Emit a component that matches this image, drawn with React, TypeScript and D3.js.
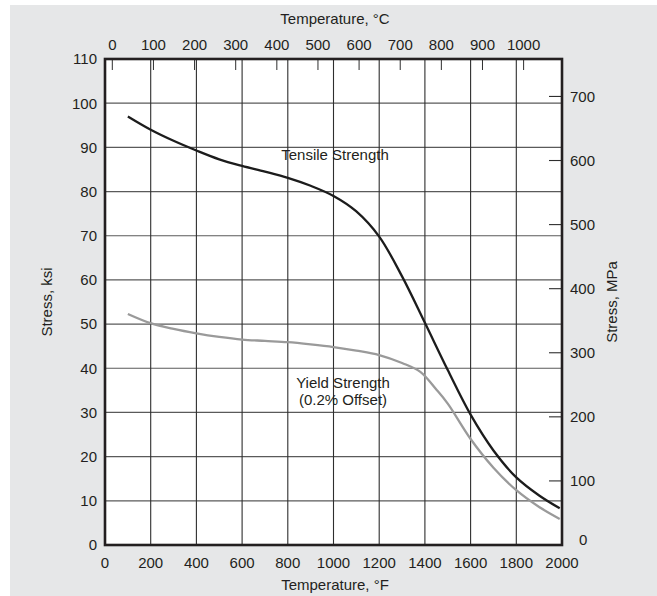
import React from "react";
import * as d3 from "d3";

const fTicks = [0, 200, 400, 600, 800, 1000, 1200, 1400, 1600, 1800, 2000];
const ksiTicks = [0, 10, 20, 30, 40, 50, 60, 70, 80, 90, 100, 110];
const cTicks = [0, 100, 200, 300, 400, 500, 600, 700, 800, 900, 1000];
const mpaTicks = [0, 100, 200, 300, 400, 500, 600, 700];

const tensileF = [100, 200, 300, 400, 500, 600, 700, 800, 900, 1000, 1100, 1200, 1300, 1400, 1500, 1600, 1700, 1800, 1900, 1990];
const tensileKsi = [97, 94, 91.5, 89.3, 87.3, 85.8, 84.5, 83.1, 81.3, 79, 75.5, 69.8, 60.8, 50.3, 39.6, 29.5, 21.4, 15.3, 11.2, 8.3];

const yieldF = [100, 200, 300, 400, 500, 600, 700, 800, 900, 1000, 1100, 1200, 1300, 1380, 1450, 1500, 1600, 1700, 1800, 1900, 1990];
const yieldKsi = [52.3, 50.2, 48.9, 47.9, 47.1, 46.5, 46.2, 45.9, 45.4, 44.8, 44, 43, 41.2, 39.2, 35.2, 32, 24, 17.5, 12.4, 8.6, 5.9];

const W = 657, H = 596;
const L = 105, R = 562, T = 59, B = 545;
const FONT = "'Liberation Sans', Arial, Helvetica, sans-serif";

export default function App() {
  const x = d3.scaleLinear().domain([0, 2000]).range([L, R]);
  const y = d3.scaleLinear().domain([0, 110]).range([B, T]);
  const yM = d3.scaleLinear().domain([0, 110 * 6.894757]).range([B, T]);
  const xC = (c: number) => x(c * 1.8 + 32);

  const line = d3
    .line<[number, number]>()
    .x((d) => x(d[0]))
    .y((d) => y(d[1]))
    .curve(d3.curveCatmullRom.alpha(0.5));

  const tensile = line(tensileF.map((f, i) => [f, tensileKsi[i]] as [number, number])) || "";
  const yieldP = line(yieldF.map((f, i) => [f, yieldKsi[i]] as [number, number])) || "";

  return (
    <svg
      width={W}
      height={H}
      style={{ position: "absolute", left: 0, top: 0, fontFamily: FONT }}
    >
      <rect x={0} y={0} width={W} height={H} fill="#ffffff" />
      <rect x={10} y={5} width={W - 10} height={H - 5} fill="#e6e7e8" />
      <rect x={L} y={T} width={R - L} height={B - T} fill="#ffffff" />

      {ksiTicks.filter((v) => v > 0 && v < 110).map((v) => (
        <line key={"h" + v} x1={L} x2={R} y1={y(v)} y2={y(v)} stroke="#5a5a5a" strokeWidth={1.2} />
      ))}
      {fTicks.filter((v) => v > 0 && v < 2000).map((v) => (
        <line key={"v" + v} x1={x(v)} x2={x(v)} y1={T} y2={B} stroke="#2e2e2e" strokeWidth={1.1} />
      ))}
      {cTicks.map((c) => (
        <line key={"ct" + c} x1={xC(c)} x2={xC(c)} y1={T} y2={T + 11} stroke="#2e2e2e" strokeWidth={1} />
      ))}
      {mpaTicks.filter((m) => m > 0).map((m) => (
        <line key={"mt" + m} x1={R - 13} x2={R} y1={yM(m)} y2={yM(m)} stroke="#2e2e2e" strokeWidth={1.1} />
      ))}

      <path d={yieldP} fill="none" stroke="#9a9a9a" strokeWidth={2.3} />
      <path d={tensile} fill="none" stroke="#1c1c1c" strokeWidth={2.3} />

      <rect x={L} y={T} width={R - L} height={B - T} fill="none" stroke="#231f20" strokeWidth={2.6} />

      {ksiTicks.map((v) => (
        <text key={"kl" + v} x={97} y={y(v)} dy="0.36em" textAnchor="end" fontSize={15} fill="#231f20">
          {v}
        </text>
      ))}
      {fTicks.map((v) => (
        <text key={"fl" + v} x={x(v)} y={568} textAnchor="middle" fontSize={15} fill="#231f20">
          {v}
        </text>
      ))}
      {cTicks.map((c) => (
        <text key={"cl" + c} x={xC(c)} y={50} textAnchor="middle" fontSize={15} fill="#231f20">
          {c}
        </text>
      ))}
      {mpaTicks.map((m) => (
        <text key={"ml" + m} x={m === 0 ? 579 : 570} y={yM(m)} dy={m === 0 ? "0" : "0.36em"} textAnchor="start" fontSize={15} fill="#231f20">
          {m}
        </text>
      ))}

      <text x={335} y={24} textAnchor="middle" fontSize={15} fill="#231f20">Temperature, °C</text>
      <text x={335} y={590} textAnchor="middle" fontSize={15} fill="#231f20">Temperature, °F</text>
      <text transform={`translate(52,${(T + B) / 2}) rotate(-90)`} textAnchor="middle" fontSize={15} fill="#231f20">Stress, ksi</text>
      <text transform={`translate(617,${(T + B) / 2}) rotate(-90)`} textAnchor="middle" fontSize={15} fill="#231f20">Stress, MPa</text>

      <text x={335} y={160} textAnchor="middle" fontSize={15} fill="#231f20">Tensile Strength</text>
      <text x={343} y={388} textAnchor="middle" fontSize={15} fill="#231f20">Yield Strength</text>
      <text x={343} y={405} textAnchor="middle" fontSize={15} fill="#231f20">(0.2% Offset)</text>
    </svg>
  );
}
